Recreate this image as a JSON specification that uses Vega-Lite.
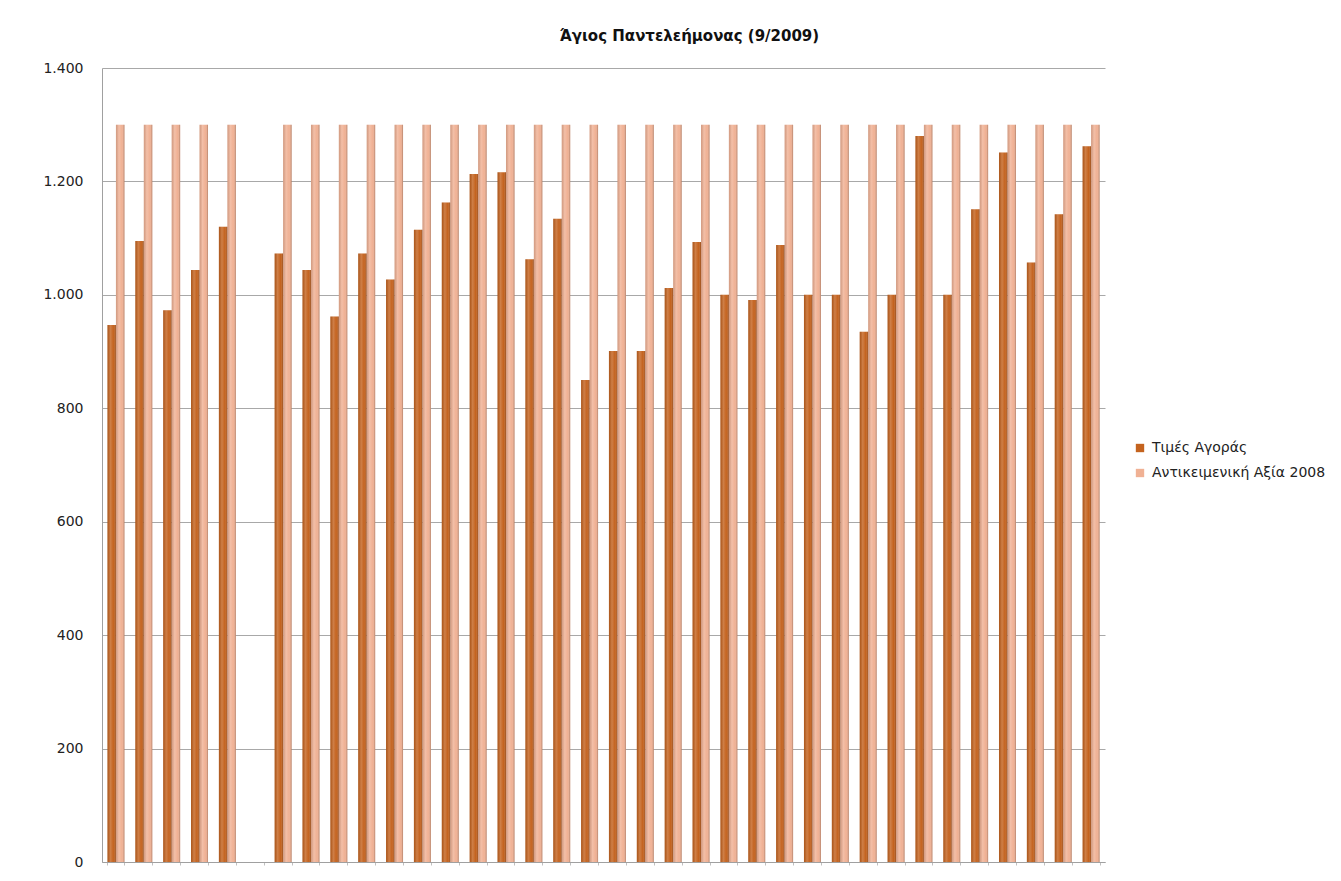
{
  "$schema": "https://vega.github.io/schema/vega-lite/v6.json",
  "autosize": "none",
  "width": 1003,
  "height": 794,
  "padding": {"left": 102, "top": 68, "right": 236, "bottom": 19},
  "background": "white",
  "config": {
    "font": "DejaVu Sans",
    "view": {"stroke": null},
    "locale": {
      "number": {"decimal": ",", "thousands": ".", "grouping": [3], "currency": ["", " €"]}
    }
  },
  "title": {
    "text": "Άγιος Παντελεήμονας (9/2009)",
    "font": "DejaVu Sans",
    "fontSize": 15,
    "fontWeight": "bold",
    "color": "#111111",
    "anchor": "middle",
    "dx": 86,
    "offset": 17
  },
  "data": {
    "values": [
      {"n": 1, "series": "Τιμές Αγοράς", "v": 947}, {"n": 1, "series": "Αντικειμενική Αξία 2008", "v": 1300},
      {"n": 2, "series": "Τιμές Αγοράς", "v": 1095}, {"n": 2, "series": "Αντικειμενική Αξία 2008", "v": 1300},
      {"n": 3, "series": "Τιμές Αγοράς", "v": 973}, {"n": 3, "series": "Αντικειμενική Αξία 2008", "v": 1300},
      {"n": 4, "series": "Τιμές Αγοράς", "v": 1044}, {"n": 4, "series": "Αντικειμενική Αξία 2008", "v": 1300},
      {"n": 5, "series": "Τιμές Αγοράς", "v": 1120}, {"n": 5, "series": "Αντικειμενική Αξία 2008", "v": 1300},
      {"n": 7, "series": "Τιμές Αγοράς", "v": 1073}, {"n": 7, "series": "Αντικειμενική Αξία 2008", "v": 1300},
      {"n": 8, "series": "Τιμές Αγοράς", "v": 1044}, {"n": 8, "series": "Αντικειμενική Αξία 2008", "v": 1300},
      {"n": 9, "series": "Τιμές Αγοράς", "v": 962}, {"n": 9, "series": "Αντικειμενική Αξία 2008", "v": 1300},
      {"n": 10, "series": "Τιμές Αγοράς", "v": 1073}, {"n": 10, "series": "Αντικειμενική Αξία 2008", "v": 1300},
      {"n": 11, "series": "Τιμές Αγοράς", "v": 1027}, {"n": 11, "series": "Αντικειμενική Αξία 2008", "v": 1300},
      {"n": 12, "series": "Τιμές Αγοράς", "v": 1115}, {"n": 12, "series": "Αντικειμενική Αξία 2008", "v": 1300},
      {"n": 13, "series": "Τιμές Αγοράς", "v": 1163}, {"n": 13, "series": "Αντικειμενική Αξία 2008", "v": 1300},
      {"n": 14, "series": "Τιμές Αγοράς", "v": 1213}, {"n": 14, "series": "Αντικειμενική Αξία 2008", "v": 1300},
      {"n": 15, "series": "Τιμές Αγοράς", "v": 1216}, {"n": 15, "series": "Αντικειμενική Αξία 2008", "v": 1300},
      {"n": 16, "series": "Τιμές Αγοράς", "v": 1063}, {"n": 16, "series": "Αντικειμενική Αξία 2008", "v": 1300},
      {"n": 17, "series": "Τιμές Αγοράς", "v": 1134}, {"n": 17, "series": "Αντικειμενική Αξία 2008", "v": 1300},
      {"n": 18, "series": "Τιμές Αγοράς", "v": 850}, {"n": 18, "series": "Αντικειμενική Αξία 2008", "v": 1300},
      {"n": 19, "series": "Τιμές Αγοράς", "v": 901}, {"n": 19, "series": "Αντικειμενική Αξία 2008", "v": 1300},
      {"n": 20, "series": "Τιμές Αγοράς", "v": 901}, {"n": 20, "series": "Αντικειμενική Αξία 2008", "v": 1300},
      {"n": 21, "series": "Τιμές Αγοράς", "v": 1012}, {"n": 21, "series": "Αντικειμενική Αξία 2008", "v": 1300},
      {"n": 22, "series": "Τιμές Αγοράς", "v": 1093}, {"n": 22, "series": "Αντικειμενική Αξία 2008", "v": 1300},
      {"n": 23, "series": "Τιμές Αγοράς", "v": 1000}, {"n": 23, "series": "Αντικειμενική Αξία 2008", "v": 1300},
      {"n": 24, "series": "Τιμές Αγοράς", "v": 991}, {"n": 24, "series": "Αντικειμενική Αξία 2008", "v": 1300},
      {"n": 25, "series": "Τιμές Αγοράς", "v": 1088}, {"n": 25, "series": "Αντικειμενική Αξία 2008", "v": 1300},
      {"n": 26, "series": "Τιμές Αγοράς", "v": 1000}, {"n": 26, "series": "Αντικειμενική Αξία 2008", "v": 1300},
      {"n": 27, "series": "Τιμές Αγοράς", "v": 1000}, {"n": 27, "series": "Αντικειμενική Αξία 2008", "v": 1300},
      {"n": 28, "series": "Τιμές Αγοράς", "v": 935}, {"n": 28, "series": "Αντικειμενική Αξία 2008", "v": 1300},
      {"n": 29, "series": "Τιμές Αγοράς", "v": 1000}, {"n": 29, "series": "Αντικειμενική Αξία 2008", "v": 1300},
      {"n": 30, "series": "Τιμές Αγοράς", "v": 1280}, {"n": 30, "series": "Αντικειμενική Αξία 2008", "v": 1300},
      {"n": 31, "series": "Τιμές Αγοράς", "v": 1000}, {"n": 31, "series": "Αντικειμενική Αξία 2008", "v": 1300},
      {"n": 32, "series": "Τιμές Αγοράς", "v": 1151}, {"n": 32, "series": "Αντικειμενική Αξία 2008", "v": 1300},
      {"n": 33, "series": "Τιμές Αγοράς", "v": 1251}, {"n": 33, "series": "Αντικειμενική Αξία 2008", "v": 1300},
      {"n": 34, "series": "Τιμές Αγοράς", "v": 1057}, {"n": 34, "series": "Αντικειμενική Αξία 2008", "v": 1300},
      {"n": 35, "series": "Τιμές Αγοράς", "v": 1142}, {"n": 35, "series": "Αντικειμενική Αξία 2008", "v": 1300},
      {"n": 36, "series": "Τιμές Αγοράς", "v": 1262}, {"n": 36, "series": "Αντικειμενική Αξία 2008", "v": 1300}
    ]
  },
  "encoding": {
    "x": {
      "field": "n",
      "type": "ordinal",
      "scale": {
        "domain": [1, 2, 3, 4, 5, 6, 7, 8, 9, 10, 11, 12, 13, 14, 15, 16, 17, 18, 19, 20, 21, 22, 23, 24, 25, 26, 27, 28, 29, 30, 31, 32, 33, 34, 35, 36],
        "paddingInner": 0.39,
        "paddingOuter": 0.195
      },
      "axis": {
        "title": null,
        "labels": false,
        "ticks": true,
        "tickBand": "extent",
        "tickSize": 3,
        "tickColor": "#c0c0c0",
        "domainColor": "#a0a0a0",
        "grid": false
      }
    },
    "xOffset": {
      "field": "series",
      "type": "nominal",
      "scale": {"domain": ["Τιμές Αγοράς", "Αντικειμενική Αξία 2008"], "paddingInner": 0, "paddingOuter": 0}
    },
    "y": {
      "field": "v",
      "type": "quantitative",
      "scale": {"domain": [0, 1400], "nice": false},
      "axis": {
        "title": null,
        "values": [0, 200, 400, 600, 800, 1000, 1200, 1400],
        "format": ",d",
        "labelFont": "DejaVu Sans",
        "labelFontSize": 14,
        "labelColor": "#222222",
        "labelPadding": 19,
        "ticks": false,
        "domainColor": "#a0a0a0",
        "gridColor": "#a8a8a8",
        "gridWidth": 1
      }
    }
  },
  "layer": [
    {
      "mark": {"type": "bar"},
      "encoding": {
        "color": {
          "field": "series",
          "type": "nominal",
          "scale": {"domain": ["Τιμές Αγοράς", "Αντικειμενική Αξία 2008"], "range": ["#c4631f", "#f0b194"]},
          "legend": {
            "title": null,
            "orient": "none",
            "legendX": 1031,
            "legendY": 373,
            "symbolType": "square",
            "symbolSize": 70,
            "symbolStrokeWidth": 0,
            "labelFont": "DejaVu Sans",
            "labelFontSize": 14,
            "labelLimit": 400,
            "labelColor": "#222222",
            "labelOffset": 5,
            "rowPadding": 11
          }
        }
      }
    },
    {
      "mark": {
        "type": "bar",
        "fill": {
          "gradient": "linear",
          "x1": 0, "y1": 0, "x2": 1, "y2": 0,
          "stops": [
            {"offset": 0, "color": "rgba(0,0,0,0.12)"},
            {"offset": 0.35, "color": "rgba(255,255,255,0.18)"},
            {"offset": 0.7, "color": "rgba(255,255,255,0)"},
            {"offset": 1, "color": "rgba(60,20,0,0.35)"}
          ]
        }
      }
    }
  ]
}
